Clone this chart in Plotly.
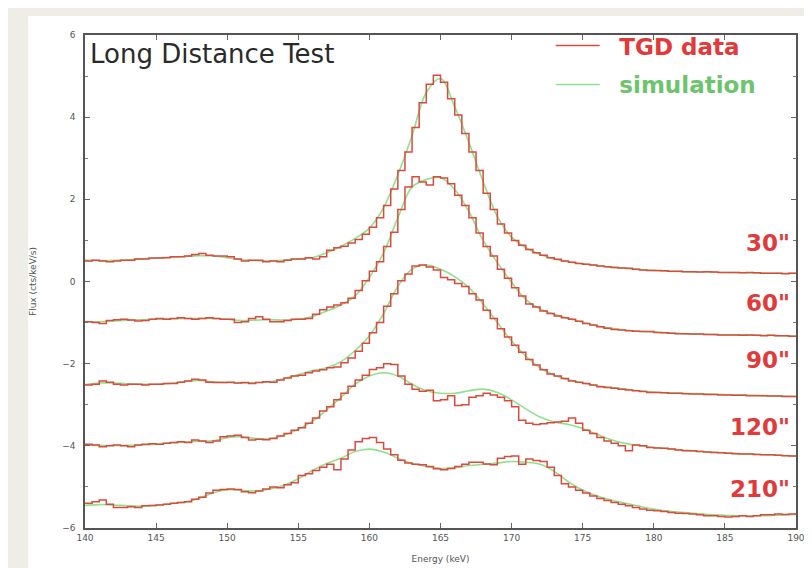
import numpy as np
import plotly.graph_objects as go

# Energy grid (keV): data bins every 0.5 keV (left edges), simulation every 1 keV
energy_bins = np.arange(140.0, 190.0, 0.5)
energy_sim = np.arange(140, 191, 1)

labels = ['30"', '60"', '90"', '120"', '210"']
label_y = [0.75, -0.73, -2.10, -3.73, -5.25]

tgd_30 = [0.50, 0.52, 0.50, 0.48, 0.50, 0.52, 0.52, 0.55, 0.55, 0.57,
          0.57, 0.58, 0.60, 0.60, 0.62, 0.66, 0.68, 0.64, 0.62, 0.62,
          0.60, 0.55, 0.50, 0.52, 0.52, 0.48, 0.50, 0.48, 0.52, 0.55,
          0.55, 0.58, 0.55, 0.60, 0.76, 0.82, 0.86, 0.94, 1.02, 1.15,
          1.32, 1.55, 1.85, 2.25, 2.70, 3.15, 3.75, 4.35, 4.80, 5.02,
          4.85, 4.45, 4.05, 3.60, 3.15, 2.70, 2.15, 1.75, 1.40, 1.18,
          1.00, 0.88, 0.78, 0.70, 0.64, 0.58, 0.54, 0.50, 0.47, 0.44,
          0.42, 0.40, 0.38, 0.36, 0.34, 0.33, 0.32, 0.30, 0.28, 0.27,
          0.27, 0.26, 0.25, 0.25, 0.24, 0.24, 0.23, 0.24, 0.23, 0.22,
          0.22, 0.22, 0.21, 0.22, 0.21, 0.20, 0.20, 0.20, 0.19, 0.20]
tgd_60 = [-0.98, -1.00, -1.02, -0.95, -0.93, -0.92, -0.94, -0.96, -0.95, -0.92,
          -0.90, -0.92, -0.90, -0.88, -0.90, -0.92, -0.90, -0.88, -0.90, -0.92,
          -0.92, -1.00, -0.98, -0.90, -0.86, -0.92, -0.98, -0.98, -0.95, -0.92,
          -0.92, -0.90, -0.80, -0.69, -0.62, -0.57, -0.52, -0.41, -0.22, 0.02,
          0.25, 0.48, 0.85, 1.20, 1.75, 2.30, 2.55, 2.42, 2.35, 2.55,
          2.52, 2.38, 2.10, 1.85, 1.55, 1.18, 0.85, 0.62, 0.30, 0.08,
          -0.15, -0.35, -0.55, -0.62, -0.72, -0.78, -0.84, -0.88, -0.92, -0.97,
          -1.02, -1.06, -1.10, -1.14, -1.17, -1.18, -1.20, -1.21, -1.22, -1.22,
          -1.24, -1.25, -1.26, -1.27, -1.27, -1.28, -1.28, -1.29, -1.29, -1.30,
          -1.30, -1.30, -1.31, -1.30, -1.31, -1.32, -1.31, -1.32, -1.32, -1.33]
tgd_90 = [-2.52, -2.50, -2.42, -2.45, -2.50, -2.52, -2.50, -2.50, -2.52, -2.50,
          -2.50, -2.48, -2.48, -2.45, -2.42, -2.38, -2.40, -2.45, -2.46, -2.46,
          -2.45, -2.47, -2.46, -2.48, -2.46, -2.44, -2.45, -2.40, -2.35, -2.30,
          -2.28, -2.22, -2.18, -2.15, -2.10, -2.08, -1.98, -1.86, -1.70, -1.50,
          -1.25, -1.00, -0.60, -0.30, 0.02, 0.18, 0.38, 0.40, 0.35, 0.28,
          0.10, 0.04, -0.05, -0.12, -0.30, -0.45, -0.70, -0.90, -1.15, -1.35,
          -1.55, -1.72, -1.90, -2.03, -2.15, -2.25, -2.30, -2.36, -2.42, -2.45,
          -2.48, -2.52, -2.56, -2.58, -2.60, -2.62, -2.64, -2.66, -2.68, -2.70,
          -2.70, -2.71, -2.72, -2.72, -2.73, -2.74, -2.74, -2.75, -2.75, -2.76,
          -2.76, -2.77, -2.77, -2.78, -2.78, -2.78, -2.79, -2.79, -2.80, -2.80]
tgd_120 = [-3.96, -3.98, -4.02, -4.00, -3.98, -4.00, -4.02, -3.98, -3.96, -3.95,
           -3.96, -3.94, -3.92, -3.90, -3.92, -3.86, -3.88, -3.92, -3.88, -3.78,
           -3.76, -3.74, -3.80, -3.86, -3.84, -3.85, -3.82, -3.76, -3.70, -3.62,
           -3.56, -3.45, -3.32, -3.15, -3.05, -2.88, -2.72, -2.55, -2.40, -2.28,
           -2.14, -2.10, -2.00, -2.02, -2.30, -2.50, -2.62, -2.67, -2.65, -2.90,
           -2.88, -2.78, -3.02, -3.00, -2.82, -2.78, -2.72, -2.76, -2.82, -2.90,
           -3.05, -3.38, -3.45, -3.48, -3.46, -3.44, -3.42, -3.40, -3.32, -3.45,
           -3.62, -3.70, -3.80, -3.88, -3.94, -4.00, -4.12, -3.98, -4.00, -4.04,
           -4.05, -4.06, -4.08, -4.10, -4.12, -4.12, -4.14, -4.15, -4.16, -4.17,
           -4.18, -4.19, -4.20, -4.20, -4.21, -4.22, -4.22, -4.23, -4.24, -4.25]
tgd_210 = [-5.40, -5.36, -5.32, -5.42, -5.50, -5.50, -5.48, -5.50, -5.46, -5.45,
           -5.44, -5.42, -5.40, -5.38, -5.36, -5.30, -5.25, -5.15, -5.08, -5.06,
           -5.05, -5.06, -5.12, -5.14, -5.10, -5.05, -5.00, -5.02, -4.95, -4.90,
           -4.72, -4.68, -4.60, -4.52, -4.45, -4.58, -4.32, -4.10, -3.90, -3.82,
           -3.80, -3.92, -4.08, -4.22, -4.35, -4.42, -4.45, -4.46, -4.50, -4.56,
           -4.58, -4.55, -4.50, -4.45, -4.40, -4.40, -4.44, -4.46, -4.30, -4.26,
           -4.25, -4.45, -4.32, -4.36, -4.38, -4.52, -4.72, -4.92, -5.00, -5.08,
           -5.15, -5.22, -5.28, -5.33, -5.38, -5.42, -5.46, -5.50, -5.54, -5.57,
           -5.58, -5.60, -5.62, -5.64, -5.65, -5.66, -5.68, -5.70, -5.70, -5.72,
           -5.73, -5.72, -5.70, -5.72, -5.70, -5.68, -5.68, -5.66, -5.67, -5.66]

sim_30 = [0.52, 0.51, 0.51, 0.53, 0.55, 0.57, 0.59, 0.61, 0.63, 0.62,
          0.58, 0.53, 0.51, 0.50, 0.52, 0.55, 0.58, 0.70, 0.86, 1.05,
          1.30, 1.80, 2.60, 3.55, 4.60, 4.94, 4.25, 3.38, 2.43, 1.58,
          1.08, 0.82, 0.66, 0.55, 0.48, 0.43, 0.39, 0.35, 0.32, 0.29,
          0.27, 0.25, 0.24, 0.23, 0.23, 0.22, 0.22, 0.21, 0.20, 0.20, 0.20]
sim_60 = [-0.98, -0.98, -0.96, -0.94, -0.93, -0.92, -0.91, -0.90, -0.90, -0.90,
          -0.92, -0.95, -0.94, -0.93, -0.94, -0.92, -0.85, -0.72, -0.57, -0.35,
          0.10, 0.70, 1.55, 2.30, 2.48, 2.53, 2.24, 1.70, 1.00, 0.46,
          -0.02, -0.44, -0.67, -0.80, -0.90, -0.99, -1.08, -1.14, -1.18, -1.21,
          -1.23, -1.25, -1.27, -1.28, -1.29, -1.30, -1.30, -1.31, -1.31, -1.32, -1.33]
sim_90 = [-2.51, -2.47, -2.47, -2.49, -2.50, -2.50, -2.48, -2.44, -2.41, -2.44,
          -2.46, -2.47, -2.46, -2.44, -2.36, -2.27, -2.17, -2.10, -1.95, -1.68,
          -1.32, -0.78, -0.12, 0.30, 0.40, 0.30, 0.12, -0.15, -0.55, -1.00,
          -1.45, -1.82, -2.10, -2.28, -2.39, -2.47, -2.54, -2.58, -2.62, -2.66,
          -2.69, -2.71, -2.72, -2.73, -2.74, -2.75, -2.76, -2.77, -2.78, -2.79, -2.80]
sim_120 = [-3.98, -3.99, -3.99, -3.99, -3.98, -3.96, -3.93, -3.91, -3.89, -3.88,
           -3.80, -3.78, -3.82, -3.82, -3.74, -3.60, -3.40, -3.12, -2.82, -2.50,
           -2.30, -2.22, -2.30, -2.50, -2.66, -2.72, -2.72, -2.66, -2.62, -2.70,
           -2.88, -3.10, -3.30, -3.42, -3.48, -3.58, -3.72, -3.85, -3.94, -4.00,
           -4.04, -4.07, -4.10, -4.13, -4.15, -4.17, -4.19, -4.20, -4.22, -4.23, -4.25]
sim_210 = [-5.45, -5.43, -5.44, -5.46, -5.47, -5.45, -5.41, -5.37, -5.28, -5.15,
           -5.07, -5.08, -5.10, -5.05, -4.96, -4.80, -4.60, -4.43, -4.30, -4.14,
           -4.08, -4.15, -4.30, -4.43, -4.50, -4.55, -4.53, -4.48, -4.45, -4.42,
           -4.38, -4.40, -4.45, -4.62, -4.88, -5.08, -5.22, -5.32, -5.40, -5.47,
           -5.54, -5.59, -5.62, -5.65, -5.67, -5.69, -5.70, -5.70, -5.70, -5.68, -5.67]

tgd_series = [tgd_30, tgd_60, tgd_90, tgd_120, tgd_210]
sim_series = [sim_30, sim_60, sim_90, sim_120, sim_210]

RED = "#dc4a3e"
GREEN = "#8fe08f"
FONT = "DejaVu Sans"

fig = go.Figure()

x_steps = list(energy_bins) + [190.0]
for i, sim in enumerate(sim_series):
    fig.add_trace(go.Scatter(
        x=energy_sim, y=sim, mode="lines", line=dict(color=GREEN, width=1.6, shape="spline"),
        name="&nbsp;&nbsp;<b><span style='color:#6cc46c'>simulation</span></b>", legendgroup="sim",
        legendrank=2, showlegend=(i == 0)))
for i, tgd in enumerate(tgd_series):
    fig.add_trace(go.Scatter(
        x=x_steps, y=list(tgd) + [tgd[-1]], mode="lines",
        line=dict(color=RED, width=1.5, shape="hv"),
        name="&nbsp;&nbsp;<b><span style='color:#e03a3a'>TGD data</span></b>", legendgroup="tgd",
        legendrank=1, showlegend=(i == 0)))

# white photo panel behind the chart
fig.add_shape(type="rect", xref="paper", yref="paper", x0=-0.080, x1=1.021, y0=-0.0974, y1=1.0385,
              fillcolor="white", line=dict(width=0), layer="below")

fig.add_annotation(x=0.004, y=0.962, xref="paper", yref="paper", xanchor="left", yanchor="middle",
                   text="Long Distance Test", showarrow=False,
                   font=dict(family=FONT, size=26, color="#2a2a2a"))

for lab, ly in zip(labels, label_y):
    fig.add_annotation(x=189.7, y=ly, xref="x", yref="y", xanchor="right", yanchor="middle",
                       yshift=8, text="<b>" + lab + "</b>", showarrow=False,
                       font=dict(family=FONT, size=23, color="#e03a3a"))

fig.update_layout(
    width=812, height=568,
    margin=dict(l=77, r=24, t=27, b=48),
    paper_bgcolor="#eeede7",
    plot_bgcolor="white",
    font=dict(family=FONT, size=9, color="#444"),
    showlegend=True,
    legend=dict(x=0.655, y=1.022, xanchor="left", yanchor="top",
                bgcolor="rgba(0,0,0,0)", font=dict(family=FONT, size=23),
                itemwidth=44, tracegroupgap=6),
    xaxis=dict(range=[140, 190], dtick=5, ticks="inside", ticklen=5, tickcolor="#666",
               showline=True, linecolor="#555", linewidth=1.5, mirror="allticks",
               showgrid=False, zeroline=False,
               tickfont=dict(size=9, color="#555"),
               title=dict(text="Energy (keV)", font=dict(size=9, color="#555"), standoff=14)),
    yaxis=dict(range=[-6, 6], dtick=2, ticks="inside", ticklen=5, tickcolor="#666",
               showline=True, linecolor="#555", linewidth=1.5, mirror="allticks",
               showgrid=False, zeroline=False, ticklabelstandoff=6,
               minor=dict(dtick=1, ticks="inside", ticklen=3, tickcolor="#777"),
               tickfont=dict(size=9, color="#555"),
               title=dict(text="Flux (cts/keV/s)", font=dict(size=9, color="#555"), standoff=24)),
)

fig.write_html("out.html")
